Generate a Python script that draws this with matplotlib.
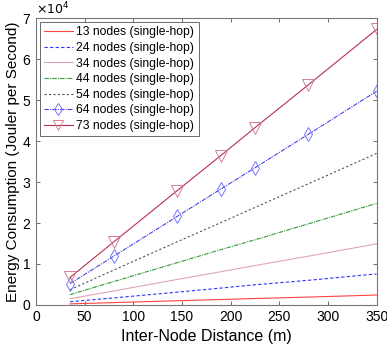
import matplotlib
matplotlib.use("Agg")
import matplotlib.pyplot as plt

plt.rcParams['font.family'] = ['Liberation Sans', 'DejaVu Sans']

# inter-node distance (m)
distance = [35, 80, 145, 190, 225, 280, 350]

# energy consumption (Joule per second)
e13 = [240, 550, 1000, 1300, 1550, 1900, 2400]
e24 = [760, 1700, 3100, 4100, 4900, 6000, 7560]
e34 = [1500, 3400, 6200, 8100, 9600, 11900, 14900]
e44 = [2500, 5700, 10300, 13500, 15900, 19800, 24800]
e54 = [3700, 8500, 15400, 20100, 23800, 29600, 37000]
e64 = [5200, 11900, 21600, 28300, 33500, 41700, 52200]
e73 = [6700, 15400, 27900, 36500, 43300, 53800, 67300]

labels = ['13 nodes (single-hop)', '24 nodes (single-hop)', '34 nodes (single-hop)',
          '44 nodes (single-hop)', '54 nodes (single-hop)', '64 nodes (single-hop)',
          '73 nodes (single-hop)']

fig = plt.figure(figsize=(3.87, 3.48), dpi=100)
ax = fig.add_axes([0.093, 0.124, 0.880, 0.823])

lw = 0.8
ax.plot(distance, e13, color='#ff4444', lw=lw, label=labels[0])
ax.plot(distance, e24, color='#3333ff', lw=lw, ls=(0, (3, 2)), label=labels[1])
ax.plot(distance, e34, color='#dda8b4', lw=lw, label=labels[2])
ax.plot(distance, e44, color='#339933', lw=lw, ls=(0, (4, 1, 1, 1)), label=labels[3])
ax.plot(distance, e54, color='#555555', lw=lw, ls=(0, (2, 2)), label=labels[4])
ax.plot(distance, e64, color='#4444ee', lw=lw, ls=(0, (4, 1, 1, 1)), marker='d',
        markersize=7, markerfacecolor='none', markeredgecolor='#7777ff',
        markeredgewidth=0.7, label=labels[5])
ax.plot(distance, e73, color='#b8304f', lw=lw, marker='v', markersize=8,
        markerfacecolor='none', markeredgecolor='#d67f96', markeredgewidth=0.7,
        label=labels[6])

ax.set_xlim(0, 350)
ax.set_ylim(0, 70000)
ax.set_xticks(range(0, 351, 50))
ax.set_yticks(range(0, 70001, 10000))
ax.set_yticklabels([str(i) for i in range(8)])
ax.tick_params(direction='in', top=True, right=True, length=3, width=0.6,
               color='#555555', labelsize=10, pad=4)
for s in ax.spines.values():
    s.set_color('#777777')
    s.set_linewidth(0.8)

ax.text(0.0, 1.003, r'$\times10^{4}$', transform=ax.transAxes, fontsize=9,
        ha='left', va='bottom')

ax.set_xlabel('Inter-Node Distance (m)', fontsize=11.5, labelpad=3)
ax.set_ylabel('Energy Consumption (Jouler per Second)', fontsize=11, labelpad=2)

leg = ax.legend(loc='upper left', fontsize=8.7, frameon=True, fancybox=False,
                borderaxespad=0.3, handlelength=2.4, handletextpad=0.3,
                labelspacing=0.3, borderpad=0.35, markerscale=0.85)
leg.get_frame().set_edgecolor('#444444')
leg.get_frame().set_linewidth(0.7)

fig.savefig('out.png', dpi=100)
